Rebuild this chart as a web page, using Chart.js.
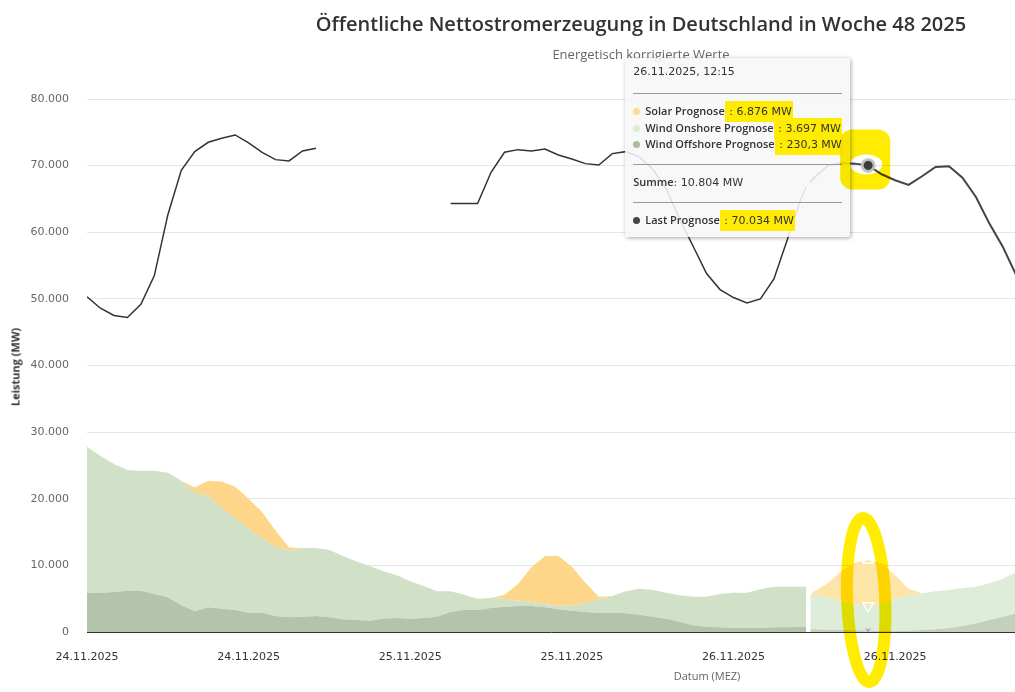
<!DOCTYPE html>
<html><head><meta charset="utf-8">
<script src="https://cdn.jsdelivr.net/npm/chart.js@4.4.1/dist/chart.umd.min.js"></script>
<style>
html,body{margin:0;padding:0;background:#fff;}
#wrap{position:relative;width:1015px;height:692px;overflow:hidden;background:#fff;}
#c{position:absolute;left:0;top:0;}
#ov{position:absolute;left:0;top:0;mix-blend-mode:multiply;pointer-events:none;z-index:5;}
.t{position:absolute;white-space:nowrap;transform:translateX(-50%);}
#title{left:641px;top:10px;font:600 20px 'Open Sans';color:#333;}
#sub{left:641px;top:45px;font:13px 'Open Sans';color:#666;}
#xt{left:707px;top:668px;font:11px 'Open Sans';color:#666;}
#yt{position:absolute;left:15px;top:367px;transform:translate(-50%,-50%) rotate(-90deg);font:bold 11px 'Open Sans';color:#333;white-space:nowrap;}
#tip{position:absolute;width:225px;height:179px;background:rgba(247,247,247,0.88);border-radius:3px;box-shadow:1px 1px 4px rgba(0,0,0,0.35);font:11px 'DejaVu Sans';color:#333;z-index:3;}
#tip .r{position:absolute;left:8px;white-space:nowrap;line-height:16px;}
#tip .hr{position:absolute;left:8px;right:8px;height:1px;background:#9a9a9a;}
#tip .dot{display:inline-block;width:7px;height:7px;border-radius:50%;margin-right:5px;}
#tip b{font:600 11px 'Open Sans';color:#333;}
.hl{background:#ffec00;padding:4px 1px;}
</style></head>
<body>
<div id="wrap">
<canvas id="c" width="1015" height="692"></canvas>
<div id="title" class="t">Öffentliche Nettostromerzeugung in Deutschland in Woche 48 2025</div>
<div id="sub" class="t">Energetisch korrigierte Werte</div>
<div id="xt" class="t">Datum (MEZ)</div>
<div id="yt">Leistung (MW)</div>
<div id="tip"></div>
<canvas id="ov" width="1015" height="692"></canvas>
</div>
<script>
// ---- data (MW) ----
const hoursActual = [0,1,2,3,4,5,6,7,8,9,10,11,12,13,14,15,16,17,18,19,20,21,22,23,24,25,26,27,28,29,30,31,32,33,34,35,36,37,38,39,40,41,42,43,44,45,46,47,48,49,50,51,52,53,53.4];
const offshoreActual = [5900,5900,6000,6200,6200,5700,5200,4000,3100,3700,3500,3300,2900,2900,2400,2200,2300,2400,2200,1900,1800,1700,2000,2100,2000,2100,2300,3000,3300,3300,3600,3800,3900,3900,3700,3400,3200,3000,2900,2900,2800,2600,2300,2000,1500,1000,800,700,600,600,600,700,700,800,800];
const onshoreActual = [21900,20500,19200,18100,18000,18500,18700,18700,17800,16700,15200,13700,12600,11200,10400,10000,10300,10200,10100,9500,8800,8200,7100,6400,5600,4800,3800,3100,2300,1700,1500,1200,800,600,500,500,800,1300,2000,2500,3300,3900,4000,3900,4000,4300,4500,5000,5300,5300,5800,6100,6100,6000,6000];
const solarActual = [0,0,0,0,0,0,0,0,800,2300,3900,4800,4500,3900,2400,500,0,0,0,0,0,0,0,0,0,0,0,0,0,0,0,600,2500,5200,7200,7500,5800,3100,400,0,0,0,0,0,0,0,0,0,0,0,0,0,0,0,0];
const lastActual = [50300,48600,47500,47200,49200,53500,62600,69300,72100,73500,74100,74600,73400,72000,70900,70700,72200,72600,null,null,null,null,null,null,null,null,null,64300,64300,64300,69000,72000,72400,72200,72500,71600,71000,70300,70100,71800,72100,71300,69500,66500,62000,57900,53800,51400,50200,49400,50000,53000,58900,65000,66800];

const hoursForecast = [53.7,54,55,56,57,58,59,60,61,62,63,64,65,66,67,68,69];
const offshoreForecast = [400,400,350,300,250,230.3,200,200,200,300,400,600,900,1300,1800,2300,2800];
const onshoreForecast = [5200,5200,4850,4300,3950,3697.4,4100,4700,5300,5500,5700,5700,5700,5500,5500,5700,6200];
const solarForecast = [0,500,2100,4500,6200,6876.4,6000,3600,1000,0,0,0,0,0,0,0,0];
const lastForecast = [67500,68200,70000,70400,70300,70034,68700,67800,67100,68400,69800,69900,68200,65300,61300,57800,53500];

const tickHours = [0,12,24,36,48,60];
const tickLabels = ["24.11.2025","24.11.2025","25.11.2025","25.11.2025","26.11.2025","26.11.2025"];
const xMax = 68.9;
const yMax = 80000;
const tipHour = 58;
const tipTime = "26.11.2025, 12:15";

// ---- helpers ----
function fmt(v){
  const neg = v < 0; v = Math.abs(v);
  let s;
  if (v >= 1000) {
    s = String(Math.round(v)).replace(/\B(?=(\d{3})+(?!\d))/g, '.');
  } else {
    s = (Math.round(v*10)/10).toString().replace('.', ',');
  }
  return (neg?'-':'') + s;
}
function pts(xs, ys){ return xs.map((x,i)=>({x:x, y:ys[i]})); }
const markIdx = hoursForecast.indexOf(tipHour);
function markR(r){ return c => c.dataIndex === markIdx ? r : 0; }

const C = {
  offA:'#b3c4ab', onA:'#d0e1c8', solA:'#fdd68a',
  offF:'#c3d1bc', onF:'#deedd7', solF:'#fde4a7'
};

const overlayPlugin = {
  id:'overlay',
  afterDraw(chart){
    const xs = chart.scales.x, ys = chart.scales.y;
    const px = xs.getPixelForValue(tipHour);
    const py = ys.getPixelForValue(lastForecast[markIdx]);
    const tip = document.getElementById('tip');
    tip.style.left = (px - 243) + 'px';
    tip.style.top = (py - 107) + 'px';
    const sum = solarForecast[markIdx] + onshoreForecast[markIdx] + offshoreForecast[markIdx];
    const row = (top, color, name, val) =>
      `<div class="r" style="top:${top}px"><span class="dot" style="background:${color}"></span><b>${name}</b><span class="hl"> : ${fmt(val)} MW</span></div>`;
    tip.innerHTML =
      `<div class="r" style="top:6px">${tipTime}</div>` +
      `<div class="hr" style="top:35px"></div>` +
      row(45, '#fddb8f', 'Solar Prognose', solarForecast[markIdx]) +
      row(62, '#dcebd5', 'Wind Onshore Prognose', onshoreForecast[markIdx]) +
      row(78, '#a9bca1', 'Wind Offshore Prognose', offshoreForecast[markIdx]) +
      `<div class="hr" style="top:106px"></div>` +
      `<div class="r" style="top:116px"><b>Summe</b>: ${fmt(sum)} MW</div>` +
      `<div class="hr" style="top:144px"></div>` +
      row(154, '#444', 'Last Prognose', lastForecast[markIdx]);
    const ov = document.getElementById('ov').getContext('2d');
    ov.clearRect(0,0,1015,692);
    ov.fillStyle = '#ffec00';
    ov.strokeStyle = '#ffec00';
    ov.beginPath();
    ov.roundRect(px-28, py-36, 50, 60, 12);
    ov.ellipse(px-2, py-1, 16, 10, 0, 0, Math.PI*2);
    ov.fill('evenodd');
    const bottom = chart.chartArea.bottom;
    ov.lineWidth = 12;
    ov.beginPath();
    ov.ellipse(px-2, bottom-32, 19, 82, -0.04, 0, Math.PI*2);
    ov.stroke();
  }
};

const area = (label, xs, ys, color, stack, fill, extra) => Object.assign({
  label, data:pts(xs, ys), backgroundColor:color, borderColor:'rgba(0,0,0,0)', borderWidth:0,
  pointRadius:0, stack, fill, order:1
}, extra || {});

new Chart(document.getElementById('c'), {
  type:'line',
  data:{
    datasets:[
      {label:'Last', data:pts(hoursActual,lastActual), borderColor:'#333', borderWidth:1.5, pointRadius:0, stack:'l1', fill:false, spanGaps:false, order:0},
      {label:'Last Prognose', data:pts(hoursForecast,lastForecast), borderColor:'#444', borderWidth:2, stack:'l2', fill:false, order:0,
        pointRadius:markR(6), pointBackgroundColor:'#3c3c3c', pointBorderColor:'rgba(200,200,200,0.9)', pointBorderWidth:3},
      area('Wind Offshore Prognose', hoursForecast, offshoreForecast, C.offF, 'fc', 'origin',
        {pointStyle:'triangle', pointRotation:180, pointRadius:markR(5), pointBackgroundColor:'#a7b99f', pointBorderColor:'rgba(225,225,225,0.9)', pointBorderWidth:2}),
      area('Wind Onshore Prognose', hoursForecast, onshoreForecast, C.onF, 'fc', '-1',
        {pointStyle:'triangle', pointRotation:180, pointRadius:markR(6), pointBackgroundColor:'rgba(0,0,0,0)', pointBorderColor:'#fff', pointBorderWidth:1.5}),
      area('Solar Prognose', hoursForecast, solarForecast, C.solF, 'fc', '-1',
        {pointStyle:'triangle', pointRadius:markR(6), pointBackgroundColor:'rgba(0,0,0,0)', pointBorderColor:'#fff', pointBorderWidth:1.5}),
      area('Wind Offshore', hoursActual, offshoreActual, C.offA, 'act', 'origin'),
      area('Wind Onshore', hoursActual, onshoreActual, C.onA, 'act', '-1'),
      area('Solar', hoursActual, solarActual, C.solA, 'act', '-1')
    ]
  },
  options:{
    responsive:false, animation:false, events:[],
    layout:{padding:{top:99,left:0,right:0,bottom:0}},
    elements:{line:{tension:0}},
    plugins:{legend:{display:false}, tooltip:{enabled:false}, title:{display:false}},
    scales:{
      x:{type:'linear', min:0, max:xMax,
        afterBuildTicks(s){ s.ticks = tickHours.map(v=>({value:v})); },
        afterFit(s){ s.height = 60; },
        ticks:{autoSkip:false, maxRotation:0, padding:19, color:'#333', font:{family:'DejaVu Sans', size:11},
          callback:(v,i)=>tickLabels[i]},
        grid:{display:false, drawTicks:false},
        border:{display:true, color:'#333', width:1}
      },
      y:{stacked:true, min:0, max:yMax,
        afterFit(s){ s.width = 87; },
        ticks:{stepSize:10000, padding:18, color:'#666', font:{family:'DejaVu Sans', size:11},
          callback:v=>fmt(v)},
        grid:{color:'#e6e6e6', drawTicks:false},
        border:{display:false}
      }
    }
  },
  plugins:[overlayPlugin]
});
</script>
</body></html>
